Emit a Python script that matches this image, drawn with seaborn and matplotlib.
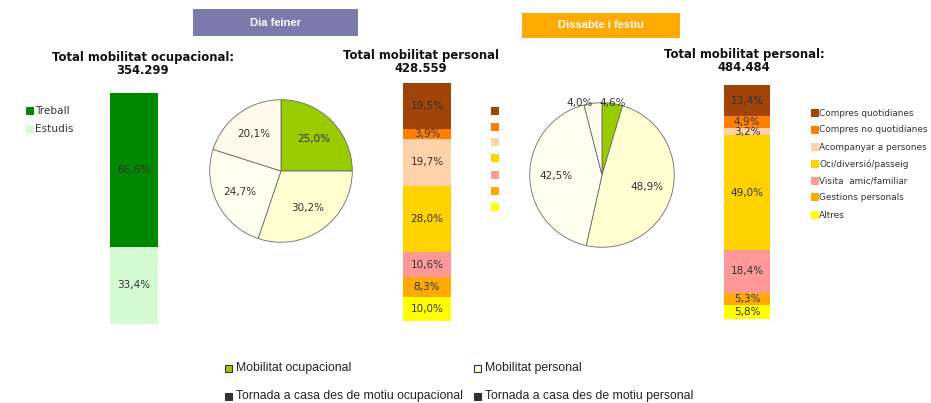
import matplotlib
matplotlib.use("Agg")
import matplotlib.pyplot as plt
from matplotlib.patches import Rectangle
import seaborn as sns
import numpy as np

W, H = 931, 403

# dades mobilitat ocupacional (dia feiner)
ocup_cats = ["Treball", "Estudis"]
ocup_vals = [66.6, 33.4]
ocup_colors = ["#008800", "#d4fad4"]

# motius de mobilitat personal (de dalt a baix a la barra)
pers_cats = ["Compres quotidianes", "Compres no quotidianes", "Acompanyar a persones",
             "Oci/diversió/passeig", "Visita  amic/familiar", "Gestions personals", "Altres"]
pers_feiner = [19.5, 3.9, 19.7, 28.0, 10.6, 8.3, 10.0]
pers_festiu = [13.4, 4.9, 3.2, 49.0, 18.4, 5.3, 5.8]
pers_colors = ["#a0440a", "#ff7f00", "#ffd2aa", "#ffd200", "#ff9999", "#ffaa00", "#ffff00"]

# pastissos: ordre dels sectors (en sentit horari des de dalt)
pie_cats = ["Mobilitat ocupacional", "Mobilitat personal",
            "Tornada a casa des de motiu personal", "Tornada a casa des de motiu ocupacional"]
pie_feiner = [25.0, 30.2, 24.7, 20.1]
pie_festiu = [4.6, 48.9, 42.5, 4.0]
pie_colors = ["#99cc00", "#ffffd2", "#fffff0", "#fffbea"]

legend_bottom = ["Mobilitat ocupacional", "Mobilitat personal",
                 "Tornada a casa des de motiu ocupacional", "Tornada a casa des de motiu personal"]
legend_bottom_colors = ["#99cc00", "#ffffd2", "#333333", "#333333"]

titles = ["Total mobilitat ocupacional:\n354.299", "Total mobilitat personal\n428.559",
          "Total mobilitat personal:\n484.484"]

sns.set_style("white")
plt.rcParams["font.family"] = ["DejaVu Sans"]

fig = plt.figure(figsize=(W / 100, H / 100), dpi=100)


def px_axes(x0, y0, x1, y1):
    return fig.add_axes([x0 / W, 1 - y1 / H, (x1 - x0) / W, (y1 - y0) / H])


def ftext(x, y, s, **kw):
    return fig.text(x / W, 1 - y / H, s, **kw)


def frect(x, y, w, h, **kw):
    fig.add_artist(Rectangle((x / W, 1 - (y + h) / H), w / W, h / H,
                             transform=fig.transFigure, **kw))


def pct(v):
    return f"{v:.1f}%".replace(".", ",")


def stacked_bar(ax, vals, colors):
    # el primer valor queda a dalt: dibuixem de la barra més alta a la més baixa
    tops = [sum(vals[i:]) for i in range(len(vals))]
    for top, c in zip(tops, colors):
        sns.barplot(x=["b"], y=[top], color=c, width=1, saturation=1,
                    linewidth=0, ax=ax)
    for top, v in zip(tops, vals):
        ax.text(0, top - v / 2, pct(v), ha="center", va="center",
                fontsize=7.5, color="#333333")
    ax.set_xlim(-0.5, 0.5)
    ax.set_ylim(0, 100)
    ax.axis("off")


def pie(ax, vals, colors):
    wedges, _ = ax.pie(vals, colors=colors, startangle=90, counterclock=False,
                       wedgeprops=dict(edgecolor="#6a6a6a", linewidth=0.6))
    for w, v in zip(wedges, vals):
        ang = np.deg2rad((w.theta1 + w.theta2) / 2)
        if v > 10:
            d, ha = 0.64, "center"
        else:
            # sectors petits: etiqueta a la vora, cap a fora
            d, ha = 1.0, ("right" if np.cos(ang) < 0 else "center")
        ax.text(d * np.cos(ang), d * np.sin(ang), pct(v), ha=ha, va="center",
                fontsize=7.5, color="#333333")
    ax.set_xlim(-1.01, 1.01)
    ax.set_ylim(-1.01, 1.01)
    ax.axis("off")


# capçaleres
frect(193, 9, 165, 27, facecolor="#7b7bab", edgecolor="none")
ftext(275.5, 22.5, "Dia feiner", ha="center", va="center", color="white",
      fontsize=8, fontweight="bold", family="Liberation Sans")
frect(522, 13, 158, 25, facecolor="#ffaa00", edgecolor="none")
ftext(601, 25.5, "Dissabte i festiu", ha="center", va="center", color="white",
      fontsize=8, fontweight="bold", family="Liberation Sans")

# títols
for (x, y), t in zip([(143, 64), (421, 61.5), (744, 61)], titles):
    ftext(x, y, t, ha="center", va="center", fontsize=8.4, fontweight="bold",
          linespacing=1.0, color="#111111")

# barres
stacked_bar(px_axes(110, 93, 158, 324), ocup_vals, ocup_colors)
stacked_bar(px_axes(403, 83, 451, 321), pers_feiner, pers_colors)
stacked_bar(px_axes(724, 85, 770, 319), pers_festiu, pers_colors)

# pastissos
pie(px_axes(209, 99, 353, 243), pie_feiner, pie_colors)
pie(px_axes(529, 102, 675, 248), pie_festiu, pie_colors)

# llegenda ocupacional
for y, name, c in zip([111, 129], ocup_cats, ocup_colors):
    frect(26, y - 4, 8, 8, facecolor=c, edgecolor="none")
    ftext(35, y, name, ha="left", va="center", fontsize=7.6, color="#333333")

# llegenda del mig (només quadrats)
for y, c in zip([111, 127, 142, 158, 175, 191, 207], pers_colors):
    frect(491, y - 4, 8, 8, facecolor=c, edgecolor="none")

# llegenda dreta
for y, name, c in zip([113, 130, 147, 164, 181, 197, 215], pers_cats, pers_colors):
    frect(811, y - 4, 8, 8, facecolor=c, edgecolor="none")
    ftext(819, y, name, ha="left", va="center", fontsize=6.4, color="#333333")

# llegenda inferior
for i, (name, c) in enumerate(zip(legend_bottom, legend_bottom_colors)):
    x = 225 if i % 2 == 0 else 474
    y = 368 if i < 2 else 396
    frect(x, y - 3.5, 7, 7, facecolor=c, edgecolor="#333333", linewidth=0.8)
    ftext(x + 11, y, name, ha="left", va="center", fontsize=8.8, color="#222222",
          family="Liberation Sans")

fig.savefig("out.png", dpi=100)
